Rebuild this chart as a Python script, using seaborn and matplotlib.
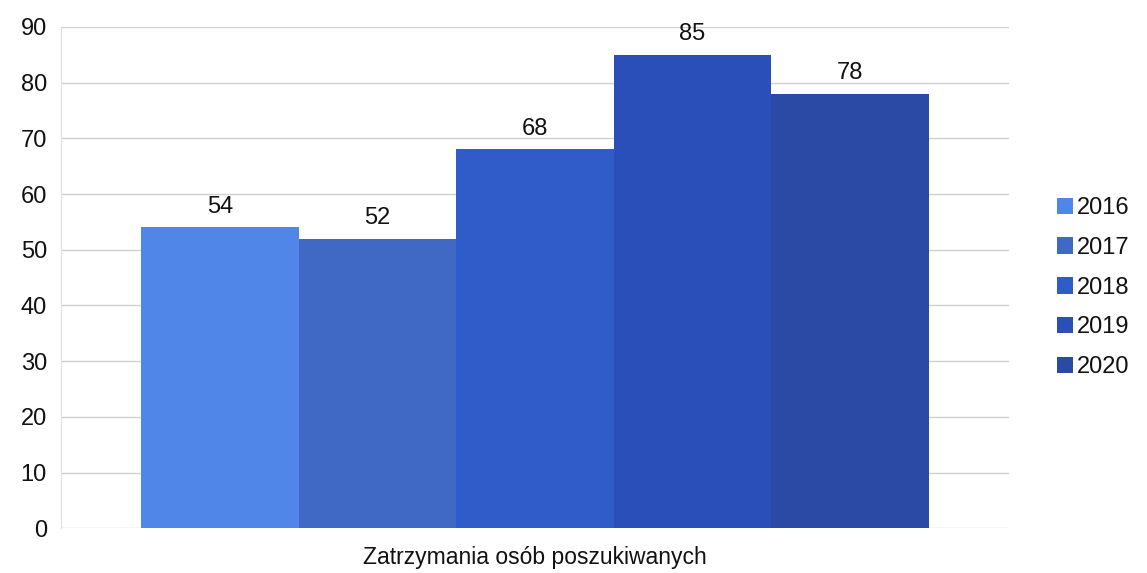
import pandas as pd
import matplotlib.pyplot as plt
import seaborn as sns

# dane z wykresu
kategoria = "Zatrzymania osób poszukiwanych"
lata = ["2016", "2017", "2018", "2019", "2020"]
wartosci = [54, 52, 68, 85, 78]
kolory = ["#4f86e8", "#3f69c4", "#2f5cc8", "#2a4fb8", "#2b4aa6"]

df = pd.DataFrame({"Kategoria": [kategoria] * len(lata), "Rok": lata, "Liczba": wartosci})

sns.set_style("white")
plt.rcParams["font.family"] = ["Liberation Sans", "DejaVu Sans"]
plt.rcParams["text.color"] = "#111111"
plt.rcParams["xtick.color"] = "#111111"
plt.rcParams["ytick.color"] = "#111111"

fig, ax = plt.subplots(figsize=(11.47, 5.73), dpi=100)
sns.barplot(data=df, x="Kategoria", y="Liczba", hue="Rok", palette=kolory,
            width=0.83, gap=0, saturation=1, edgecolor="none", ax=ax)

for cont in ax.containers:
    ax.bar_label(cont, fmt="%d", padding=7, fontsize=17)

ax.set_ylim(0, 90)
ax.set_yticks(range(0, 91, 10))
ax.set_xlim(-0.5, 0.5)
ax.tick_params(axis="y", labelsize=17, length=0, pad=10)
ax.tick_params(axis="x", labelsize=16.5, length=0, pad=13)
ax.set_ylabel("")
ax.set_xlabel("")
ax.grid(axis="y", color="#d0d0d0", linewidth=1)
ax.set_axisbelow(True)
for s in ["top", "right", "bottom"]:
    ax.spines[s].set_visible(False)
ax.spines["left"].set_color("#e0e0e0")

leg = ax.legend(loc="center left", bbox_to_anchor=(1.0, 0.48), frameon=False,
                fontsize=17, handlelength=0.7, handleheight=0.7,
                handletextpad=0.15, labelspacing=0.75, borderaxespad=1.6)

plt.subplots_adjust(left=0.053, right=0.88, top=0.953, bottom=0.078)
plt.savefig("out.png")
